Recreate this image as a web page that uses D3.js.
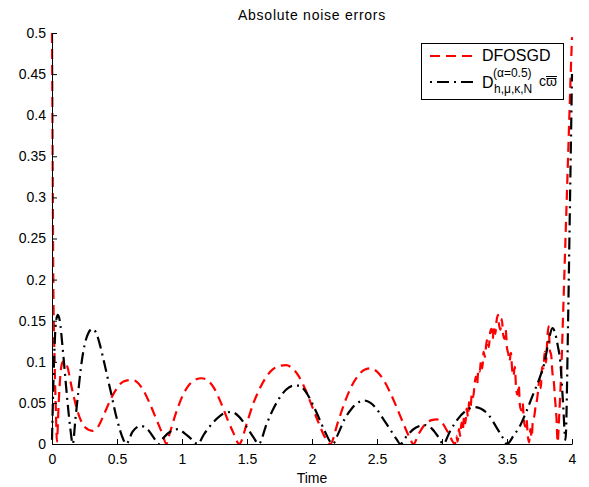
<!DOCTYPE html>
<html>
<head>
<meta charset="utf-8">
<script src="https://cdn.jsdelivr.net/npm/d3@7"></script>
<style>
  html, body { margin: 0; padding: 0; background: #fff; }
  svg { display: block; font-family: "Liberation Sans", Arial, Helvetica, sans-serif; }
</style>
</head>
<body>
<svg id="chart" width="589" height="487"></svg>
<script>
// ---------- data ----------
const titleText = "Absolute noise errors";
const xLabelText = "Time";

const xTickValues = [0, 0.5, 1, 1.5, 2, 2.5, 3, 3.5, 4];
const xTickLabels = ["0", "0.5", "1", "1.5", "2", "2.5", "3", "3.5", "4"];
const yTickValues = [0, 0.05, 0.1, 0.15, 0.2, 0.25, 0.3, 0.35, 0.4, 0.45, 0.5];
const yTickLabels = ["0", "0.05", "0.1", "0.15", "0.2", "0.25", "0.3", "0.35", "0.4", "0.45", "0.5"];

// DFOSGD (red dashed)
const dfosgdTime = [
  0.000, 0.005, 0.010, 0.020, 0.030, 0.038, 0.050, 0.065, 0.080, 0.095, 0.120, 0.150, 0.200, 0.250, 0.310, 0.350,
  0.400, 0.450, 0.500, 0.550, 0.615, 0.650, 0.700, 0.750, 0.800, 0.850, 0.880, 0.900, 0.950, 1.000, 1.050, 1.100,
  1.150, 1.200, 1.250, 1.300, 1.350, 1.400, 1.440, 1.500, 1.550, 1.600, 1.650, 1.700, 1.750, 1.800, 1.850, 1.900,
  1.950, 2.000, 2.050, 2.100, 2.140, 2.200, 2.250, 2.300, 2.350, 2.400, 2.450, 2.500, 2.550, 2.600, 2.650, 2.700,
  2.750, 2.780, 2.820, 2.870, 2.920, 2.960, 3.000, 3.050, 3.100,
  3.11, 3.12, 3.13, 3.14, 3.15, 3.16, 3.17, 3.18, 3.19, 3.20, 3.21, 3.22, 3.23, 3.24, 3.25, 3.26, 3.27, 3.28, 3.29,
  3.30, 3.31, 3.32, 3.33, 3.34, 3.35, 3.36, 3.37, 3.38, 3.39, 3.40, 3.41, 3.42, 3.43, 3.44, 3.45, 3.46, 3.47, 3.48,
  3.49, 3.50, 3.51, 3.52, 3.53, 3.54, 3.55, 3.56, 3.57, 3.58, 3.59, 3.60, 3.61, 3.62, 3.63, 3.64, 3.65, 3.66, 3.67,
  3.68, 3.69, 3.70, 3.71, 3.72, 3.73, 3.74, 3.75, 3.76, 3.77, 3.78, 3.79, 3.80, 3.81, 3.82, 3.83, 3.84, 3.85, 3.86,
  3.87, 3.88, 3.89, 3.90, 3.91, 3.92, 3.93, 3.94, 3.95, 3.96, 3.97, 3.98, 3.99, 4.00
];
const dfosgdValue = [
  0.500, 0.350, 0.200, 0.100, 0.040, 0.003, 0.045, 0.085, 0.099, 0.101, 0.093, 0.070, 0.038, 0.021, 0.016, 0.020,
  0.036, 0.054, 0.068, 0.076, 0.078, 0.076, 0.066, 0.050, 0.031, 0.012, 0.000, 0.010, 0.036, 0.057, 0.071, 0.078,
  0.080, 0.077, 0.067, 0.050, 0.030, 0.012, 0.000, 0.026, 0.050, 0.068, 0.082, 0.091, 0.095, 0.096, 0.092, 0.082,
  0.066, 0.046, 0.026, 0.008, 0.000, 0.027, 0.050, 0.069, 0.082, 0.090, 0.092, 0.088, 0.078, 0.063, 0.045, 0.026,
  0.008, 0.000, 0.012, 0.024, 0.029, 0.030, 0.026, 0.013, 0.000,
  0.010, 0.003, 0.018, 0.010, 0.026, 0.017, 0.034, 0.025, 0.043, 0.033, 0.052, 0.046, 0.062, 0.057, 0.072, 0.082, 0.072, 0.091, 0.088,
  0.101, 0.092, 0.112, 0.106, 0.121, 0.128, 0.118, 0.135, 0.140, 0.128, 0.144, 0.134, 0.150, 0.157, 0.144, 0.139, 0.152, 0.134, 0.128,
  0.139, 0.117, 0.110, 0.101, 0.111, 0.090, 0.083, 0.094, 0.068, 0.060, 0.072, 0.046, 0.041, 0.050, 0.029, 0.021, 0.030, 0.010, 0.002,
  0.018, 0.008, 0.031, 0.034, 0.046, 0.053, 0.066, 0.080, 0.068, 0.094, 0.092, 0.112, 0.099, 0.128, 0.143, 0.114, 0.108, 0.086, 0.076,
  0.054, 0.033, 0.002, 0.030, 0.062, 0.100, 0.150, 0.200, 0.250, 0.300, 0.350, 0.400, 0.450, 0.495
];

// D_{h,mu,kappa,N}^{(alpha=0.5)} c-varpi (black dash-dot)
const dTime = [
  0.000, 0.010, 0.020, 0.030, 0.045, 0.060, 0.080, 0.100, 0.120, 0.140, 0.160, 0.180, 0.200, 0.220, 0.250, 0.280,
  0.310, 0.340, 0.370, 0.400, 0.450, 0.500, 0.550, 0.570, 0.620, 0.680, 0.740, 0.790, 0.820, 0.860, 0.920, 0.970,
  1.020, 1.080, 1.120, 1.170, 1.250, 1.320, 1.380, 1.440, 1.500, 1.550, 1.590, 1.650, 1.700, 1.750, 1.800, 1.860,
  1.900, 1.950, 2.000, 2.050, 2.100, 2.160, 2.200, 2.250, 2.300, 2.350, 2.400, 2.450, 2.500, 2.550, 2.600, 2.650,
  2.680, 2.730, 2.800, 2.870, 2.920, 2.970, 3.010, 3.060, 3.120, 3.180, 3.250, 3.300, 3.360, 3.420, 3.470, 3.500,
  3.550, 3.600, 3.650, 3.700, 3.750, 3.790, 3.820, 3.850, 3.870, 3.890, 3.910, 3.930, 3.950, 3.970, 3.985, 4.000
];
const dValue = [
  0.005, 0.070, 0.120, 0.148, 0.157, 0.150, 0.120, 0.085, 0.050, 0.020, 0.000, 0.030, 0.060, 0.090, 0.120, 0.135,
  0.140, 0.135, 0.120, 0.100, 0.065, 0.030, 0.005, 0.000, 0.015, 0.022, 0.017, 0.006, 0.000, 0.008, 0.016, 0.018,
  0.013, 0.005, 0.000, 0.012, 0.028, 0.037, 0.039, 0.033, 0.020, 0.008, 0.000, 0.024, 0.042, 0.056, 0.066, 0.071,
  0.071, 0.064, 0.050, 0.033, 0.015, 0.000, 0.012, 0.030, 0.042, 0.050, 0.053, 0.050, 0.042, 0.030, 0.018, 0.006,
  0.000, 0.010, 0.020, 0.023, 0.019, 0.009, 0.000, 0.015, 0.030, 0.040, 0.045, 0.043, 0.035, 0.020, 0.007, 0.000,
  0.010, 0.022, 0.040, 0.060, 0.080, 0.100, 0.125, 0.141, 0.135, 0.120, 0.100, 0.053, 0.005, 0.150, 0.300, 0.450
];

const seriesNames = ["DFOSGD", "D"];
const seriesColors = ["#ff0000", "#000000"];

// ---------- layout ----------
const svg = d3.select("#chart");
const x = d3.scaleLinear().domain([0, 4]).range([52, 572]);
const y = d3.scaleLinear().domain([0, 0.5]).range([444, 33]);

const redDash = "10,6";
const blackDash = "12,5,2,5";

// title
svg.append("text")
  .attr("x", 312).attr("y", 20)
  .attr("text-anchor", "middle")
  .attr("font-size", 14)
  .attr("letter-spacing", 0.75)
  .text(titleText);

// x label
svg.append("text")
  .attr("x", 312).attr("y", 483)
  .attr("text-anchor", "middle")
  .attr("font-size", 14)
  .text(xLabelText);

// series lines
const lineGen = d3.line().x(d => x(d[0])).y(d => y(d[1])).curve(d3.curveMonotoneX);
const redData = dfosgdTime.map((t, i) => [t, dfosgdValue[i]]);
const blackData = dTime.map((t, i) => [t, dValue[i]]);

svg.append("path").datum(redData)
  .attr("d", lineGen)
  .attr("fill", "none").attr("stroke", seriesColors[0])
  .attr("stroke-width", 2.2).attr("stroke-dasharray", redDash);

svg.append("path").datum(blackData)
  .attr("d", lineGen)
  .attr("fill", "none").attr("stroke", seriesColors[1])
  .attr("stroke-width", 2.2).attr("stroke-dasharray", blackDash);

// axes
const xAxis = d3.axisBottom(x)
  .tickValues(xTickValues)
  .tickFormat((d, i) => xTickLabels[i])
  .tickSizeInner(-5).tickSizeOuter(0).tickPadding(10);
const yAxis = d3.axisLeft(y)
  .tickValues(yTickValues)
  .tickFormat((d, i) => yTickLabels[i])
  .tickSizeInner(-5).tickSizeOuter(0).tickPadding(6);

const gx = svg.append("g").attr("transform", "translate(0,444)").call(xAxis);
const gy = svg.append("g").attr("transform", "translate(52,0)").call(yAxis);
[gx, gy].forEach(g => {
  g.selectAll("text").attr("font-size", 14).attr("fill", "#000")
    .attr("font-family", "'Liberation Sans', Arial, sans-serif");
  g.selectAll("line").attr("stroke", "#000");
  g.select(".domain").attr("stroke", "#000");
});

// legend
const lg = svg.append("g");
lg.append("rect")
  .attr("x", 421.5).attr("y", 43.5).attr("width", 142).attr("height", 56)
  .attr("fill", "#fff").attr("stroke", "#000").attr("stroke-width", 1);
lg.append("line")
  .attr("x1", 430).attr("x2", 478).attr("y1", 56).attr("y2", 56)
  .attr("stroke", seriesColors[0]).attr("stroke-width", 2.2).attr("stroke-dasharray", redDash);
lg.append("text")
  .attr("x", 482).attr("y", 61).attr("font-size", 16).text(seriesNames[0]);
lg.append("line")
  .attr("x1", 430).attr("x2", 478).attr("y1", 82).attr("y2", 82)
  .attr("stroke", seriesColors[1]).attr("stroke-width", 2.2).attr("stroke-dasharray", "2,5,12,5");
lg.append("text")
  .attr("x", 482).attr("y", 88).attr("font-size", 16).text(seriesNames[1]);
lg.append("text")
  .attr("x", 493).attr("y", 77).attr("font-size", 12).text("(α=0.5)");
lg.append("text")
  .attr("x", 494).attr("y", 93).attr("font-size", 12).text("h,μ,κ,N");
const cw = lg.append("text")
  .attr("x", 539).attr("y", 86).attr("font-size", 14);
cw.append("tspan").text("c");
cw.append("tspan").text("ϖ");
lg.append("line")
  .attr("x1", 546).attr("x2", 557).attr("y1", 76.5).attr("y2", 76.5)
  .attr("stroke", "#000").attr("stroke-width", 1);
</script>
</body>
</html>
